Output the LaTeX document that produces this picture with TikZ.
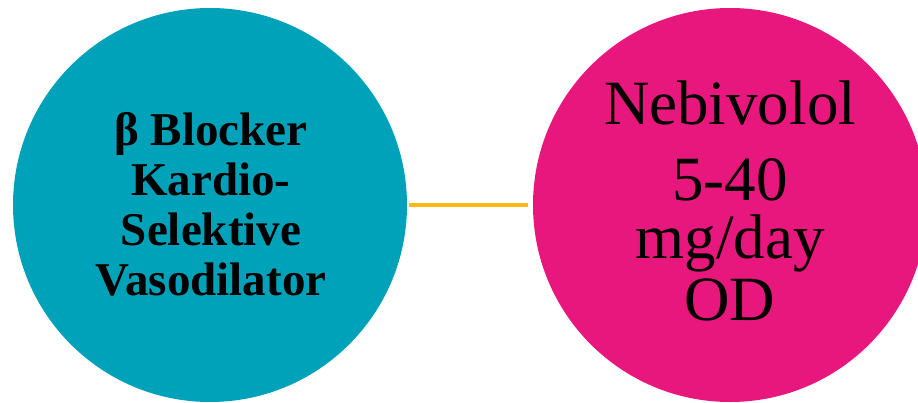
\documentclass[tikz,border=0pt]{standalone}
\usepackage{fontspec}
\setmainfont{Liberation Serif}
\definecolor{tealc}{RGB}{0,162,185}
\definecolor{magc}{RGB}{232,23,125}
\definecolor{goldc}{RGB}{253,185,19}
\begin{document}
\begin{tikzpicture}[x=1pt,y=-1pt,
  bubble/.style={circle,minimum size=394pt,inner sep=0pt},
  label text/.style={align=center,text=black,inner sep=0pt},
  link/.style={draw=goldc,line width=4pt}]
\useasboundingbox (0,0) rectangle (918,403);
\node[bubble,fill=tealc] (L) at (210,205) {};
\node[bubble,fill=magc] (R) at (730,205) {};
\node[label text,font={\bfseries\fontsize{47}{50}\selectfont}] (Lt) at (211,204)
  {β Blocker\\Kardio-\\Selektive\\Vasodilator};
\node[label text,font={\fontsize{63}{62}\selectfont}] (Rt) at (730,201)
  {Nebivolol\\[14pt]5-40\\[-4pt]mg/day\\OD};
\draw[link,shorten <=2pt,shorten >=5pt] (L.east) -- (R.west);
\end{tikzpicture}
\end{document}
